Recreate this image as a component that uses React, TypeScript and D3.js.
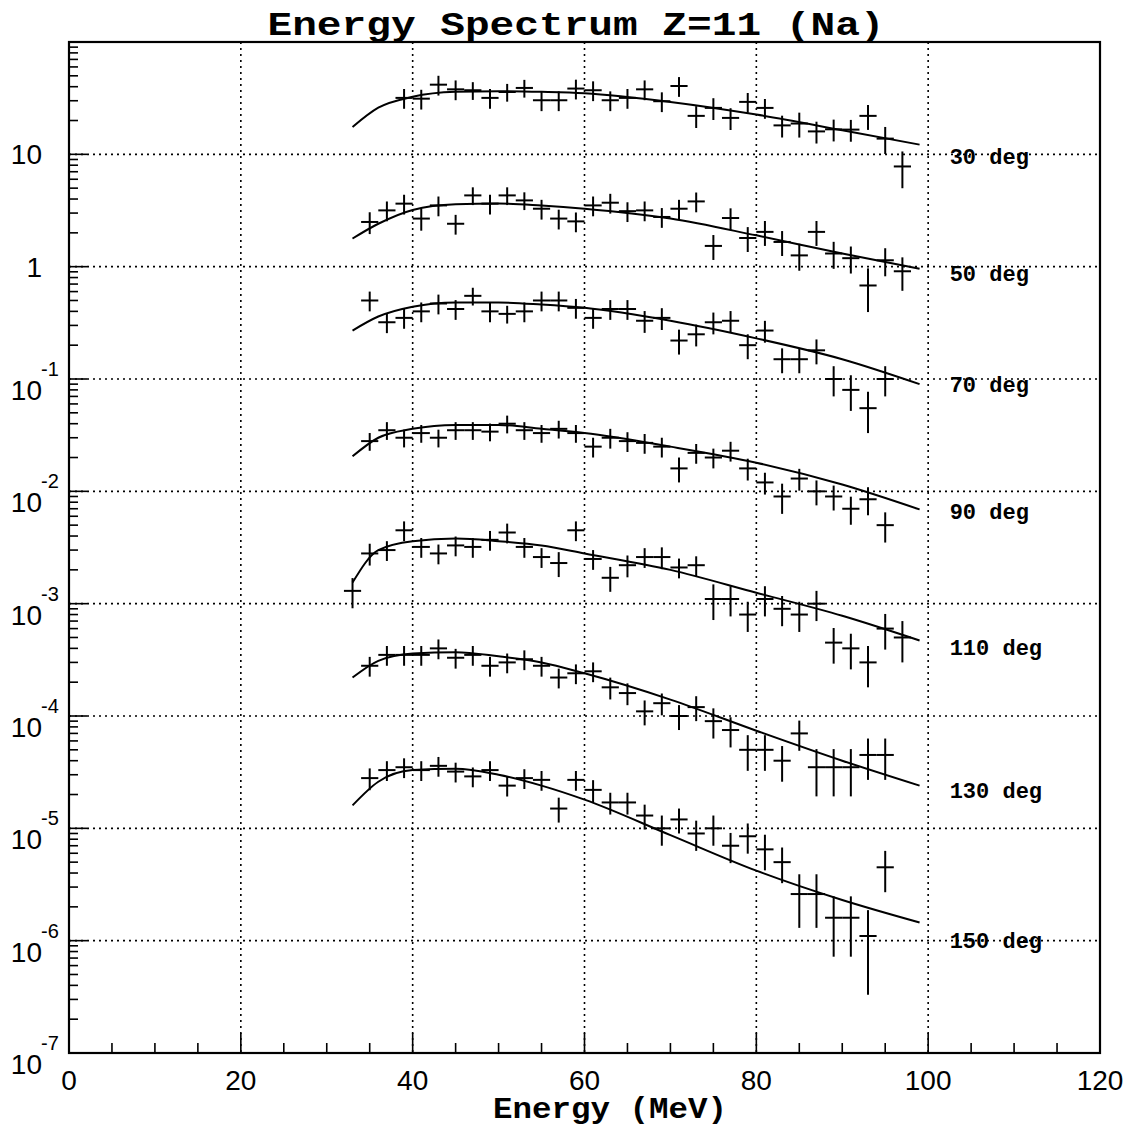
import React from 'react'
import * as d3 from 'd3'

const W = 1133
const H = 1135
const frame = { left: 69, right: 1100, top: 42, bottom: 1053 }

// energy bins: 33, 35, ... 97 MeV
const energies = d3.range(33, 98, 2)
const angleLabels = ['30 deg', '50 deg', '70 deg', '90 deg', '110 deg', '130 deg', '150 deg']
const labelLevels = [9.6, 0.87, 0.09, 0.0066, 4.1e-4, 2.2e-5, 1.0e-6]
const xTicks = [0, 20, 40, 60, 80, 100, 120]
const yExponents = [-7, -6, -5, -4, -3, -2, -1, 0, 1]

const s30 = [null, null, null, 31.8, 31.3, 41.7, 37.9, 37.2, 31.8, 35.9, 39, 30.3, 30.3, 38.5, 37.2, 30.3, 31.8, 37.9, 29.7, 40.6, 22.0, 25.9, 21.1, 29.3, 25.9, 18.1, 18.8, 16.0, 16.7, 16.6, 22.0, 13.8, 7.8]
const s50 = [null, 2.5, 3.17, 3.64, 2.68, 3.51, 2.41, 4.31, 3.64, 4.31, 3.89, 3.28, 2.68, 2.53, 3.51, 3.71, 3.12, 3.17, 2.77, 3.28, 3.81, 1.53, 2.71, 1.8, 2.04, 1.66, 1.26, 2.04, 1.31, 1.19, 0.68, 1.14, 0.91]
const s70 = [null, 0.5, 0.32, 0.35, 0.4, 0.47, 0.42, 0.55, 0.4, 0.38, 0.4, 0.5, 0.5, 0.43, 0.35, 0.42, 0.42, 0.33, 0.35, 0.22, 0.25, 0.32, 0.33, 0.2, 0.27, 0.15, 0.15, 0.18, 0.1, 0.08, 0.055, 0.1, null]
const s90 = [null, 0.028, 0.035, 0.03, 0.033, 0.03, 0.035, 0.035, 0.034, 0.04, 0.035, 0.033, 0.036, 0.033, 0.025, 0.03, 0.028, 0.027, 0.025, 0.016, 0.022, 0.02, 0.023, 0.016, 0.012, 0.009, 0.013, 0.01, 0.009, 0.007, 0.0085, 0.005, null]
const s110 = [0.0013, 0.0028, 0.003, 0.0045, 0.0032, 0.0028, 0.0033, 0.0032, 0.0037, 0.0043, 0.0032, 0.0026, 0.0023, 0.0045, 0.0025, 0.0017, 0.0022, 0.0026, 0.0026, 0.0021, 0.0022, 0.0011, 0.0011, 0.0008, 0.0011, 0.0009, 0.0008, 0.001, 0.00045, 0.0004, 0.0003, 0.0006, 0.0005]
const s130 = [null, 2.8e-4, 3.5e-4, 3.5e-4, 3.5e-4, 4e-4, 3.3e-4, 3.5e-4, 2.8e-4, 3e-4, 3.2e-4, 2.8e-4, 2.2e-4, 2.4e-4, 2.5e-4, 1.8e-4, 1.6e-4, 1.1e-4, 1.3e-4, 1.0e-4, 1.2e-4, 9e-5, 7.5e-5, 5e-5, 5e-5, 4e-5, 7e-5, 3.5e-5, 3.5e-5, 3.5e-5, 4.5e-5, 4.5e-5, null]
const s150 = [null, 2.8e-5, 3.3e-5, 3.5e-5, 3.3e-5, 3.6e-5, 3.2e-5, 2.9e-5, 3.3e-5, 2.4e-5, 2.8e-5, 2.7e-5, 1.5e-5, 2.7e-5, 2.2e-5, 1.7e-5, 1.7e-5, 1.3e-5, 1.0e-5, 1.2e-5, 9e-6, 1e-5, 7e-6, 8.5e-6, 6.5e-6, 5e-6, 2.6e-6, 2.6e-6, 1.6e-6, 1.6e-6, 1.1e-6, 4.5e-6, null]

// relative errors (fraction of value)
const e30 = [0, 0, 0, .2, .2, .2, .2, .18, .2, .18, .18, .2, .2, .2, .2, .2, .2, .2, .2, .2, .22, .22, .22, .2, .2, .22, .25, .22, .22, .22, .25, .27, .36]
const e50 = [0, .22, .2, .2, .22, .2, .2, .18, .2, .18, .18, .2, .2, .2, .2, .2, .2, .2, .2, .2, .2, .25, .22, .25, .25, .25, .27, .25, .27, .27, .42, .28, .33]
const e70 = [0, .2, .2, .2, .2, .2, .2, .18, .2, .18, .2, .2, .2, .2, .2, .2, .2, .22, .22, .25, .22, .22, .22, .25, .22, .25, .25, .25, .3, .35, .4, .3, 0]
const e90 = [0, .18, .18, .18, .18, .18, .18, .18, .18, .18, .18, .18, .18, .18, .2, .2, .2, .2, .2, .25, .2, .2, .2, .22, .22, .3, .22, .25, .25, .28, .28, .3, 0]
const e110 = [.3, .22, .2, .2, .2, .2, .2, .2, .2, .2, .2, .2, .25, .2, .2, .25, .22, .2, .22, .2, .2, .35, .3, .3, .3, .3, .3, .3, .35, .35, .4, .35, .4]
const e130 = [0, .2, .2, .2, .2, .2, .2, .2, .2, .2, .2, .2, .2, .2, .2, .22, .22, .25, .22, .25, .25, .3, .3, .35, .35, .35, .3, .45, .45, .45, .4, .4, 0]
const e150 = [0, .22, .2, .2, .2, .2, .2, .2, .2, .2, .2, .2, .25, .2, .22, .22, .22, .25, .3, .25, .3, .3, .3, .3, .35, .35, .5, .5, .55, .55, .7, .4, 0]

// fitted curves
const fitEnergies = [33, 36, 40, 45, 50, 55, 60, 70, 80, 90, 99]
const f30 = [17.5, 26, 32.5, 36, 36.5, 36, 35, 29.3, 22.6, 16.4, 12.2]
const f50 = [1.78, 2.41, 3.2, 3.6, 3.65, 3.5, 3.28, 2.68, 1.9, 1.31, 0.96]
const f70 = [0.27, 0.36, 0.44, 0.48, 0.48, 0.46, 0.43, 0.33, 0.23, 0.15, 0.09]
const f90 = [0.0205, 0.03, 0.036, 0.039, 0.039, 0.036, 0.033, 0.025, 0.018, 0.0115, 0.0069]
const f110 = [0.00154, 0.003, 0.0036, 0.0038, 0.0036, 0.0033, 0.0028, 0.002, 0.00125, 0.00078, 0.00047]
const f130 = [2.2e-4, 3.1e-4, 3.6e-4, 3.7e-4, 3.4e-4, 3.0e-4, 2.4e-4, 1.4e-4, 7.4e-5, 4e-5, 2.4e-5]
const f150 = [1.6e-5, 2.6e-5, 3.3e-5, 3.4e-5, 3.0e-5, 2.4e-5, 1.8e-5, 8.7e-6, 4.2e-6, 2.3e-6, 1.45e-6]

const seriesValues = [s30, s50, s70, s90, s110, s130, s150]
const seriesErrors = [e30, e50, e70, e90, e110, e130, e150]
const fits = [f30, f50, f70, f90, f110, f130, f150]

const monoFont = '"Liberation Mono", "DejaVu Sans Mono", monospace'
const sansFont = '"Liberation Sans", Arial, sans-serif'

const App = () => {
    const x = d3.scaleLinear().domain([0, 120]).range([frame.left, frame.right])
    const y = d3.scaleLog().domain([1e-7, 1e2]).range([frame.bottom, frame.top])

    const fitLine = d3.line<number>()
        .x((d, i) => x(fitEnergies[i]))
        .y(d => y(d))
        .curve(d3.curveMonotoneX)

    const minorY: number[] = []
    yExponents.forEach(p => {
        for (let m = 2; m <= 9; m++) minorY.push(m * Math.pow(10, p))
    })
    const minorX = d3.range(5, 120, 5).filter(v => v % 20 !== 0)

    return (
        <svg width={W} height={H} style={{ position: 'absolute', left: 0, top: 0, background: '#fff' }}>
            <rect width={W} height={H} fill='#fff' />
            {/* grid */}
            <g stroke='#000' strokeWidth={1.6} strokeDasharray='2,4'>
                {[20, 40, 60, 80, 100].map(v => (
                    <line key={'gx' + v} x1={x(v)} x2={x(v)} y1={frame.top} y2={frame.bottom} />
                ))}
                {yExponents.slice(1).map(p => (
                    <line key={'gy' + p} x1={frame.left} x2={frame.right} y1={y(Math.pow(10, p))} y2={y(Math.pow(10, p))} />
                ))}
            </g>
            {/* ticks */}
            <g stroke='#000' strokeWidth={1.6}>
                {yExponents.map(p => (
                    <line key={'ty' + p} x1={frame.left} x2={frame.left + 18} y1={y(Math.pow(10, p))} y2={y(Math.pow(10, p))} />
                ))}
                {minorY.map((v, i) => (
                    <line key={'my' + i} x1={frame.left} x2={frame.left + 9} y1={y(v)} y2={y(v)} />
                ))}
                {xTicks.map(v => (
                    <line key={'tx' + v} x1={x(v)} x2={x(v)} y1={frame.bottom} y2={frame.bottom - 20} />
                ))}
                {minorX.map(v => (
                    <line key={'mx' + v} x1={x(v)} x2={x(v)} y1={frame.bottom} y2={frame.bottom - 10} />
                ))}
            </g>
            <rect x={frame.left} y={frame.top} width={frame.right - frame.left} height={frame.bottom - frame.top}
                fill='none' stroke='#000' strokeWidth={2.2} />

            {/* fits */}
            <g fill='none' stroke='#000' strokeWidth={2}>
                {fits.map((f, k) => <path key={'fit' + k} d={fitLine(f) || ''} />)}
            </g>

            {/* data points with error bars */}
            <g stroke='#000' strokeWidth={2}>
                {seriesValues.map((vals, k) => vals.map((v, i) => {
                    if (v == null) return null
                    const e = energies[i]
                    const r = seriesErrors[k][i]
                    return (
                        <g key={'p' + k + '-' + i}>
                            <line x1={x(e - 1)} x2={x(e + 1)} y1={y(v)} y2={y(v)} />
                            <line x1={x(e)} x2={x(e)} y1={y(v * (1 + r))} y2={y(v * (1 - r))} />
                        </g>
                    )
                }))}
            </g>

            {/* angle labels */}
            <g fontFamily={monoFont} fontWeight='bold' fontSize={22}>
                {angleLabels.map((t, k) => (
                    <text key={t} x={x(102.5)} y={y(labelLevels[k])} dy='0.35em'>{t}</text>
                ))}
            </g>

            {/* y tick labels */}
            <g fontFamily={sansFont} fontSize={28}>
                <text x={42} y={y(10) + 10} textAnchor='end'>10</text>
                <text x={42} y={y(1) + 10} textAnchor='end'>1</text>
                {yExponents.filter(p => p < 0).map(p => (
                    <g key={'yl' + p}>
                        <text x={42} y={y(Math.pow(10, p)) + 21} textAnchor='end'>10</text>
                        <text x={41} y={y(Math.pow(10, p)) - 3} fontSize={20}>{p}</text>
                    </g>
                ))}
            </g>
            {/* x tick labels */}
            <g fontFamily={sansFont} fontSize={28} textAnchor='middle'>
                {xTicks.map(v => (
                    <text key={'xl' + v} x={x(v)} y={frame.bottom + 37}>{v}</text>
                ))}
            </g>

            <text x={576} y={35} textAnchor='middle' fontFamily={monoFont} fontWeight='bold' fontSize={34}
                textLength={617} lengthAdjust='spacingAndGlyphs'>Energy Spectrum Z=11 (Na)</text>
            <text x={610} y={1118} textAnchor='middle' fontFamily={monoFont} fontWeight='bold' fontSize={30}
                textLength={234} lengthAdjust='spacingAndGlyphs'>Energy (MeV)</text>
        </svg>
    )
}

export default App
